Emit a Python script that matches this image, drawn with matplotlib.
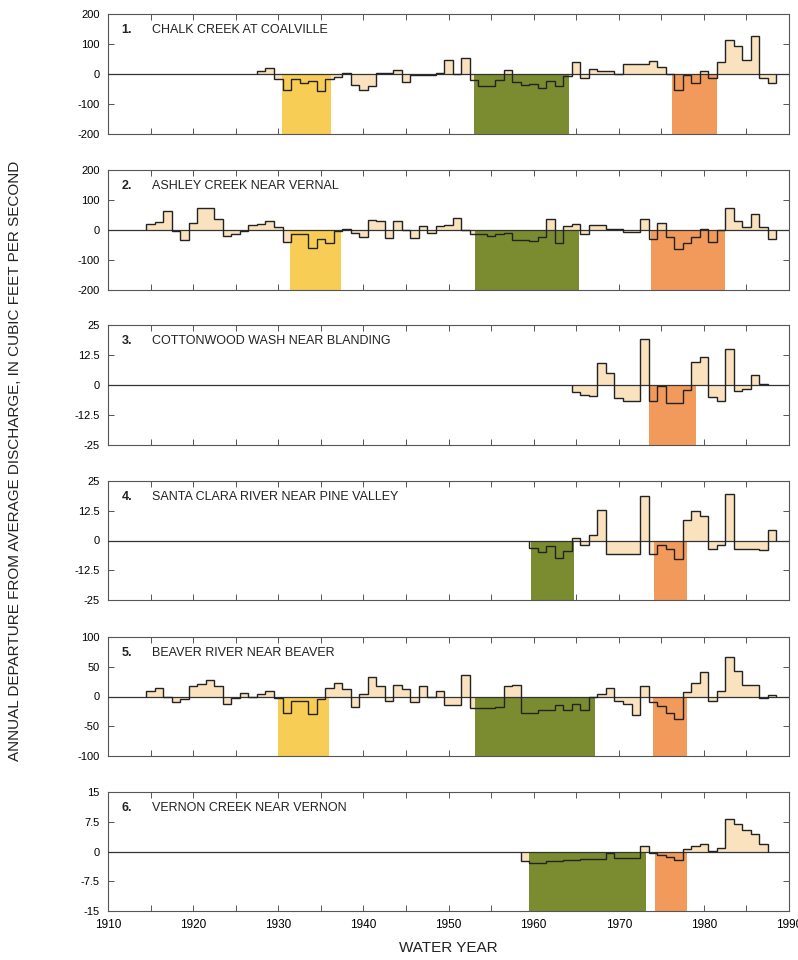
import numpy as np
import matplotlib
matplotlib.use("Agg")
import matplotlib.pyplot as plt

plt.rcParams['font.family'] = ['Liberation Sans', 'DejaVu Sans']

# ---------------- data ----------------
station_names = [
    "CHALK CREEK AT COALVILLE",
    "ASHLEY CREEK NEAR VERNAL",
    "COTTONWOOD WASH NEAR BLANDING",
    "SANTA CLARA RIVER NEAR PINE VALLEY",
    "BEAVER RIVER NEAR BEAVER",
    "VERNON CREEK NEAR VERNON",
]

chalk_start = 1928
chalk_vals = [11, 19, -18, -52, -18, -30, -22, -55, -18, -10,
              5, -35, -52, -40, 2, 3, 13, -25, -2, -2,
              -2, 3, 47, 0, 55, -20, -40, -40, -20, 12,
              -25, -35, -33, -48, -24, -40, -5, 39, -14, 16,
              11, 11, 0, 32, 32, 32, 44, 24, 0, -53,
              -3, -31, 11, -12, 41, 113, 93, 47, 127, -14, -31]

ashley_start = 1915
ashley_vals = [19, 28, 63, -2, -35, 24, 74, 72, 35, -20,
               -15, -2, 15, 19, 30, 11, -40, -15, -15, -60,
               -30, -45, -5, 2, -10, -25, 32, 30, -28, 30,
               0, -28, 14, -10, 14, 18, 41, 0, -12, -15,
               -20, -15, -10, -35, -35, -37, -25, 36, -42, 13,
               19, -14, 15, 15, 4, 4, -7, -7, 38, -29,
               22, -25, -64, -44, -25, 4, -40, 0, 74, 30,
               11, 52, 11, -31]

cottonwood_start = 1965
cottonwood_vals = [-2.8, -4, -4.5, 9, 5, -5.5, -6.5, -6.5, 19, -6.5,
                   -0.5, -7.4, -7.4, -2, 9.7, 11.8, -5, -6.5, 14.9, -2.4,
                   -1.8, 4.2, 0.3]

santaclara_start = 1960
santaclara_vals = [-3, -4.7, -2.5, -7.5, -4.4, 1, -2, 2.5, 13, -5.8,
                   -5.8, -5.8, -5.8, 18.8, -5.5, -1.7, -3.5, -7.9, 8.8, 12.2,
                   10.1, -3.7, -1.7, 19.4, -3.7, -3.7, -3.7, -3.9, 4.6]

beaver_start = 1915
beaver_vals = [10, 14, 0, -10, -4, 17, 21, 27, 18, -12,
               -3, 6, -1, 5, 9, -2, -27, -8, -8, -29,
               -5, 15, 23, 12, -18, 5, 33, 18, -7, 19,
               12, -10, 17, 0, 9, -14, -14, 36, -20, -20,
               -20, -18, 17, 19, -27, -27, -22, -22, -14, -22,
               -12, -22, 0, 5, 15, -7, -13, -31, 18, -10,
               -16, -27, -37, 7, 22, 41, -7, 9, 67, 43,
               19, 19, -2, 2]

vernon_start = 1959
vernon_vals = [-2.5, -2.8, -3.0, -2.5, -2.4, -2.2, -2.2, -2.0, -2.0, -2.0,
               -0.3, -1.6, -1.6, -1.6, 1.5, -0.4, -1.0, -1.3, -2.1, 0.7,
               1.5, 1.8, 0.2, 0.8, 8.1, 7.0, 5.5, 4.3, 1.9]

series_starts = [chalk_start, ashley_start, cottonwood_start,
                 santaclara_start, beaver_start, vernon_start]
series_values = [chalk_vals, ashley_vals, cottonwood_vals,
                 santaclara_vals, beaver_vals, vernon_vals]

y_limits = [200, 200, 25, 25, 100, 15]
y_tick_labels = [
    ["200", "100", "0", "-100", "-200"],
    ["200", "100", "0", "-100", "-200"],
    ["25", "12.5", "0", "-12.5", "-25"],
    ["25", "12.5", "0", "-12.5", "-25"],
    ["100", "50", "0", "-50", "-100"],
    ["15", "7.5", "0", "-7.5", "-15"],
]

# drought periods (start, end, kind)
droughts = [
    [(1930.4, 1936.2, "y"), (1953.0, 1964.2, "g"), (1976.2, 1981.6, "o")],
    [(1931.4, 1937.4, "y"), (1953.1, 1965.3, "g"), (1973.8, 1982.5, "o")],
    [(1973.5, 1979.1, "o")],
    [(1959.7, 1964.7, "g"), (1974.1, 1978.0, "o")],
    [(1930.0, 1936.0, "y"), (1953.1, 1967.2, "g"), (1974.0, 1978.0, "o")],
    [(1959.4, 1973.2, "g"), (1974.2, 1978.05, "o")],
]

x_ticks = list(range(1910, 1991, 5))
x_labels = [str(t) if t % 10 == 0 else "" for t in x_ticks]

# ---------------- style ----------------
drought_colors = {"y": "#f8cd55", "g": "#7b8c30", "o": "#f19a5c"}
tan = "#fae2bf"
frame_col = "#555555"

W, H = 798, 960
fig = plt.figure(figsize=(W / 100, H / 100), dpi=100)

panel_px = [(14, 134), (170, 290), (325, 445), (481, 600), (637, 756), (792, 911)]
left_px, right_px = 108, 789

axes = []
for i, (top, bot) in enumerate(panel_px):
    ax = fig.add_axes([left_px / W, 1 - bot / H, (right_px - left_px) / W, (bot - top) / H])
    axes.append(ax)
    start = series_starts[i]
    vals = np.array(series_values[i], dtype=float)
    years = np.arange(start, start + len(vals))
    edges = np.r_[years - 0.5, years[-1] + 0.5]
    lim = y_limits[i]

    ax.stairs(vals, edges, baseline=0, fill=True, color=tan, lw=0, zorder=1)
    for (a, b, k) in droughts[i]:
        ax.fill_between([a, b], -lim, 0, color=drought_colors[k], lw=0, zorder=2)
    ax.axhline(0, color="#333333", lw=0.9, zorder=3)
    ax.stairs(vals, edges, baseline=0, fill=False, color="#222222", lw=1.0, zorder=4)

    ax.set_xlim(1910, 1990)
    ax.set_ylim(-lim, lim)
    ax.set_yticks([lim, lim / 2, 0, -lim / 2, -lim])
    ax.set_yticklabels(y_tick_labels[i], fontsize=8)
    ax.set_xticks(x_ticks)
    if i == len(panel_px) - 1:
        ax.set_xticklabels(x_labels, fontsize=8.5)
    else:
        ax.set_xticklabels([])
    ax.tick_params(direction="in", length=4, width=0.7, color=frame_col,
                   top=True, right=True, pad=6)
    for s in ax.spines.values():
        s.set_color(frame_col)
        s.set_linewidth(0.8)

    ax.text(0.02, 0.865, f"{i + 1}.", transform=ax.transAxes, fontsize=9,
            fontweight="bold", va="center", ha="left", color="#222222")
    ax.text(0.064, 0.865, station_names[i], transform=ax.transAxes, fontsize=9,
            va="center", ha="left", color="#222222")

fig.text(0.019, 0.52, "ANNUAL DEPARTURE FROM AVERAGE DISCHARGE, IN CUBIC FEET PER SECOND",
         rotation=90, ha="center", va="center", fontsize=11, color="#222222")
fig.text(0.562, 1 - 948 / H, "WATER YEAR", ha="center", va="center",
         fontsize=11, color="#222222")

fig.savefig("out.png", dpi=100)
